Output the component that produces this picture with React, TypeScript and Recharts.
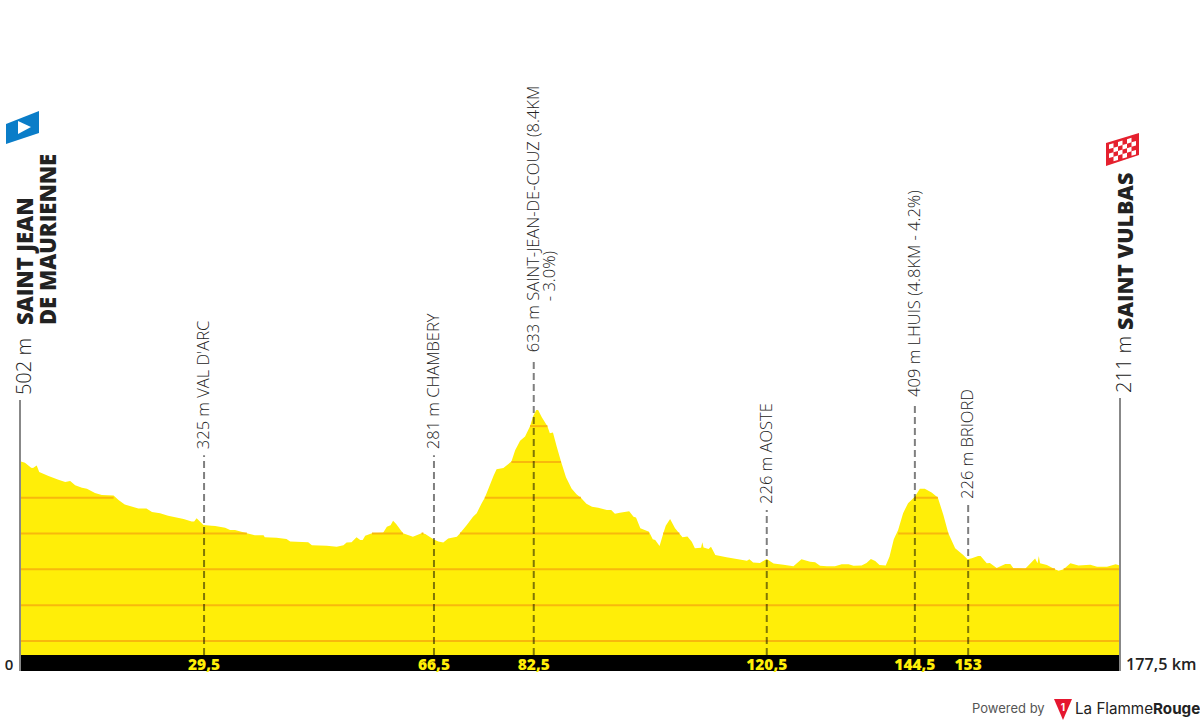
import {
  Area,
  ComposedChart,
  Line,
  ReferenceArea,
  ReferenceLine,
  XAxis,
  YAxis,
} from "recharts";

const KM = [
  0, 0.8, 1.8, 2.1, 2.7, 3.1, 4.6, 6.2, 7.3, 8.1, 8.9, 10, 10.8, 12.1, 13.2, 15.1, 15.9, 16.9, 19.1, 20.4,
  21.3, 22.6, 23.9, 26.4, 27.7, 28.1, 28.5, 29.6, 30.9, 31.5, 33.1, 33.9, 34.7, 36.6, 37.9, 39.3, 39.5, 41.4, 43, 43.6,
  46.5, 47.1, 49.5, 51.1, 52.2, 52.7, 53.5, 54.3, 54.9, 55.3, 55.7, 56.8, 58.6, 59.2, 59.8, 60.2, 60.7, 61.8, 63.4, 64.8,
  65.1, 65.4, 66.7, 67.5, 68.3, 69.1, 70.5, 71, 72.1, 73.1, 73.7, 74.5, 75, 75.6, 76.4, 76.9, 78, 79.3, 79.9, 80.7,
  81.5, 82.3, 82.8, 83.3, 83.6, 84.2, 85.1, 85.5, 86, 86.6, 87.3, 88.1, 89, 89.8, 90.5, 91.4, 92.3, 93.3, 94.7, 95.4,
  96, 96.8, 98.3, 99, 99.4, 100.1, 101.5, 102.1, 102.5, 103.2, 103.8, 104.2, 104.9, 105.7, 106.4, 106.9, 107.7, 108.4, 108.9, 109.9,
  110.1, 110.3, 111.1, 111.5, 112.2, 114, 117.3, 117.7, 118.3, 119.4, 120.5, 121.6, 123.2, 124.8, 126.1, 127.5, 128.3, 129.1, 130.2, 131.5,
  132.6, 133.7, 134.5, 135.8, 136.6, 137.3, 138, 138.7, 139.7, 140.3, 141, 141.7, 142.5, 143.3, 144.4, 145.2, 146, 147.1, 148.1, 149,
  149.8, 150.9, 152.2, 152.9, 153.6, 154.6, 155, 156, 156.5, 157.6, 159, 159.8, 160.3, 162.2, 163.3, 163.8, 164.2, 164.4, 164.6, 165.7,
  167, 167.6, 168.4, 169.5, 170.8, 172.7, 173.8, 175.4, 176.8, 177.5,
];

const ELEVATION = [
  502, 498, 484, 483, 490, 472, 461, 450, 444, 447, 435, 428, 425, 413, 408, 406, 394, 381, 370, 370,
  360, 357, 350, 341, 334, 334, 343, 324, 322, 321, 316, 310, 310, 301, 295, 295, 290, 288, 285, 278,
  276, 267, 266, 263, 267, 275, 276, 290, 282, 282, 294, 301, 302, 319, 323, 336, 327, 301, 291, 301,
  300, 299, 284, 278, 275, 286, 291, 301, 324, 347, 357, 385, 400, 426, 461, 480, 483, 501, 533, 559,
  571, 600, 628, 645, 645, 625, 600, 580, 582, 543, 501, 457, 426, 410, 400, 383, 375, 372, 366, 366,
  355, 358, 362, 347, 345, 315, 305, 284, 282, 265, 300, 322, 341, 315, 300, 290, 292, 277, 259, 260,
  276, 261, 257, 263, 240, 234, 224, 228, 219, 218, 229, 216, 213, 209, 228, 221, 220, 210, 209, 209,
  214, 214, 210, 211, 218, 229, 223, 212, 211, 235, 284, 310, 357, 385, 403, 425, 425, 415, 401, 352,
  301, 259, 240, 228, 231, 237, 237, 217, 218, 204, 215, 215, 203, 202, 221, 230, 217, 237, 217, 212,
  200, 196, 200, 217, 211, 213, 207, 207, 214, 211,
];

const LEVELS = [0, 100, 200, 300, 400, 500, 600];

const MARKER_KM = [29.7, 66.8, 82.9, 120.5, 144.4, 153];
const MARKER_TICKS = ["29,5", "66,5", "82,5", "120,5", "144,5", "153"];
const MARKER_TOPS = [519, 519, 790, 366, 665, 380];
const MARKER_TEXT = [
  "325 m VAL D'ARC",
  "281 m CHAMBERY",
  "633 m SAINT-JEAN-DE-COUZ (8.4KM",
  "226 m AOSTE",
  "409 m LHUIS (4.8KM - 4.2%)",
  "226 m BRIORD",
];

const rows = KM.map((km, i) => {
  const row: Record<string, number | null> = { km, elevation: ELEVATION[i] };
  LEVELS.forEach((lvl) => {
    row["l" + lvl] = ELEVATION[i] >= lvl ? lvl : null;
  });
  return row;
});

const FONT = "'Open Sans', sans-serif";
const AXIS_BOTTOM = -84;
const BAR_TOP = -39;

const tickText: Record<number, string> = { 0: "0", 177.5: "177,5 km" };
MARKER_KM.forEach((km, i) => {
  tickText[km] = MARKER_TICKS[i];
});

function KmTick({ x, y, payload }: any) {
  const v = payload.value;
  const label = tickText[v];
  if (v === 0) {
    return (
      <text x={9} y={y - 9} textAnchor="middle" fontFamily={FONT} fontSize={15} fontWeight={600} fill="#222">
        {label}
      </text>
    );
  }
  if (v === 177.5) {
    return (
      <text x={x + 6} y={y - 9} fontFamily={FONT} fontSize={16.2} fontWeight={600} fill="#222">
        {label}
      </text>
    );
  }
  return (
    <text x={x} y={y - 9} textAnchor="middle" fontFamily={FONT} fontSize={15.5} fontWeight={800} fill="#FFEE08">
      {label}
    </text>
  );
}

function MarkerLabel({ viewBox, text, second }: any) {
  const cx = viewBox.x;
  const by = viewBox.y - 6;
  return (
    <g fontFamily={FONT} fontSize={16.5} fontWeight={300} fill="#222">
      <text transform={`translate(${cx + 5} ${by}) rotate(-90)`}>{text}</text>
      {second ? <text transform={`translate(${cx + 21} ${by - 51}) rotate(-90)`}>{second}</text> : null}
    </g>
  );
}

function EndLabel({ viewBox, height, lines, gap, size }: any) {
  const cx = viewBox.x;
  const by = viewBox.y - 5;
  return (
    <g fontFamily={FONT} fill="#222">
      <text transform={`translate(${cx + 11} ${by}) rotate(-90)`} fontSize={20} fontWeight={300}>
        {height}
      </text>
      {lines.map((t: string, i: number) => (
        <text
          key={t}
          transform={`translate(${cx + 12.5 + i * 23} ${by - gap}) rotate(-90)`}
          fontSize={size}
          fontWeight={800}
        >
          {t}
        </text>
      ))}
    </g>
  );
}

function Decorations() {
  const cells: number[][] = [];
  for (let r = 0; r < 4; r++) {
    for (let c = 0; c < 6; c++) {
      if ((r + c) % 2 === 0) cells.push([c, r]);
    }
  }
  return (
    <svg width={1200} height={725} style={{ position: "absolute", left: 0, top: 0 }}>
      <polygon points="6,124 39,111 39,133 6,144" fill="#0A7DC8" />
      <polygon points="18,121 31,127 18,134" fill="#fff" />
      <polygon points="1106,143 1139,133 1139,155 1106,166" fill="#E5202E" />
      <g transform="matrix(1 -0.3 0 1 1106 143)">
        {cells.map(([c, r]) => (
          <rect key={c + "-" + r} x={3 + c * 4.5} y={2.5 + r * 4.5} width={4.5} height={4.5} fill="#fff" />
        ))}
      </g>
      <text x={972} y={713} fontFamily="Inter, sans-serif" fontSize={13} fill="#555">
        Powered by
      </text>
      <polygon points="1054,699 1072,699 1063,720" fill="#E5172F" />
      <text x={1063} y={711} textAnchor="middle" fontFamily="Inter, sans-serif" fontSize={10} fontWeight={700} fill="#fff">
        1
      </text>
      <text x={1075} y={714} fontFamily="Inter, sans-serif" fontSize={15.2} fill="#222">
        La Flamme
        <tspan fontWeight={700}>Rouge</tspan>
      </text>
    </svg>
  );
}

export default function App() {
  return (
    <div style={{ position: "absolute", left: 0, top: 0, width: 1200, height: 725, background: "#fff" }}>
      <ComposedChart
        width={1200}
        height={725}
        data={rows}
        margin={{ top: 283, right: 80, bottom: 24, left: 20 }}
      >
        <XAxis
          dataKey="km"
          type="number"
          domain={[0, 177.5]}
          ticks={[0, ...MARKER_KM, 177.5]}
          interval={0}
          height={30}
          axisLine={false}
          tickLine={false}
          tick={<KmTick />}
        />
        <YAxis hide domain={[AXIS_BOTTOM, 1000]} />
        <Area
          type="linear"
          dataKey="elevation"
          stroke="none"
          fill="#FFEE08"
          fillOpacity={1}
          baseValue={BAR_TOP}
          isAnimationActive={false}
        />
        {LEVELS.map((lvl) => (
          <Line
            key={lvl}
            type="linear"
            dataKey={"l" + lvl}
            stroke="#F8B80C"
            strokeWidth={2}
            dot={false}
            connectNulls={false}
            isAnimationActive={false}
          />
        ))}
        <ReferenceArea x1={0} x2={177.5} y1={AXIS_BOTTOM} y2={BAR_TOP} fill="#000" fillOpacity={1} stroke="none" />
        {MARKER_KM.map((km, i) => (
          <ReferenceLine
            key={km}
            segment={[
              { x: km, y: BAR_TOP },
              { x: km, y: MARKER_TOPS[i] },
            ]}
            stroke="#000"
            strokeOpacity={0.5}
            strokeWidth={2}
            strokeDasharray="7 4"
            label={<MarkerLabel text={MARKER_TEXT[i]} second={i === 2 ? "- 3.0%)" : null} />}
          />
        ))}
        <ReferenceLine
          segment={[
            { x: 0, y: AXIS_BOTTOM },
            { x: 0, y: 673 },
          ]}
          stroke="#888"
          strokeWidth={2}
          label={<EndLabel height="502 m" lines={["SAINT JEAN", "DE MAURIENNE"]} gap={70} size={22} />}
        />
        <ReferenceLine
          segment={[
            { x: 177.5, y: AXIS_BOTTOM },
            { x: 177.5, y: 679 },
          ]}
          stroke="#888"
          strokeWidth={2}
          label={<EndLabel height="211 m" lines={["SAINT VULBAS"]} gap={63} size={21.4} />}
        />
      </ComposedChart>
      <Decorations />
    </div>
  );
}
